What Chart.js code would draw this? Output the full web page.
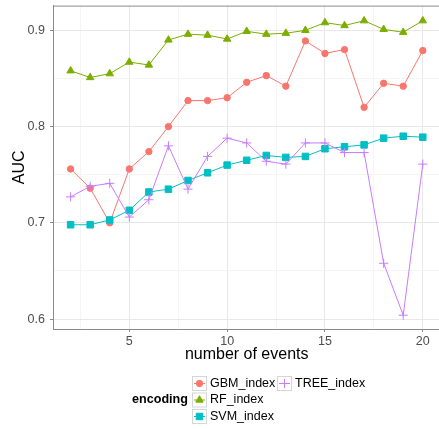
<!DOCTYPE html>
<html>
<head>
<meta charset="utf-8">
<script src="https://cdn.jsdelivr.net/npm/chart.js@4/dist/chart.umd.min.js"></script>
<style>
  html, body { margin: 0; padding: 0; background: #fff; }
  #wrap { width: 439px; height: 429px; overflow: hidden; }
</style>
</head>
<body>
<div id="wrap"><canvas id="aucChart" width="446" height="429"></canvas></div>
<script>
const events = [2, 3, 4, 5, 6, 7, 8, 9, 10, 11, 12, 13, 14, 15, 16, 17, 18, 19, 20];
const gbmIndex = [0.756, 0.736, 0.700, 0.756, 0.774, 0.800, 0.827, 0.827, 0.830, 0.846, 0.853, 0.842, 0.889, 0.876, 0.880, 0.820, 0.845, 0.842, 0.879];
const rfIndex = [0.858, 0.851, 0.855, 0.867, 0.864, 0.890, 0.896, 0.895, 0.891, 0.899, 0.896, 0.897, 0.900, 0.908, 0.905, 0.910, 0.901, 0.898, 0.910];
const svmIndex = [0.698, 0.698, 0.703, 0.713, 0.732, 0.735, 0.744, 0.752, 0.760, 0.765, 0.770, 0.768, 0.769, 0.777, 0.779, 0.781, 0.788, 0.790, 0.789];
const treeIndex = [0.727, 0.738, 0.741, 0.706, 0.724, 0.780, 0.735, 0.769, 0.788, 0.783, 0.764, 0.761, 0.783, 0.783, 0.773, 0.773, 0.658, 0.604, 0.761];

const xTicks = [2.5, 5, 7.5, 10, 12.5, 15, 17.5, 20];
const xLabels = [5, 10, 15, 20];
const yTicks = [0.6, 0.65, 0.7, 0.75, 0.8, 0.85, 0.9];
const yLabels = [0.6, 0.7, 0.8, 0.9];

const series = [
  { label: 'GBM_index', data: gbmIndex, color: '#F8766D', style: 'circle', radius: 3.2 },
  { label: 'RF_index', data: rfIndex, color: '#7CAE00', style: 'triangle', radius: 4.3 },
  { label: 'SVM_index', data: svmIndex, color: '#00BFC4', style: 'rect', radius: 4.6 },
  { label: 'TREE_index', data: treeIndex, color: '#C77CFF', style: 'cross', radius: 4.6 },
];

const isOneOf = (list, v) => list.some(l => Math.abs(l - v) < 1e-9);
const font = 'Liberation Sans, Arial, sans-serif';

// top border of the panel + the ggplot-style legend below the axis title
const panelAndLegend = {
  id: 'panelAndLegend',
  afterDraw(chart) {
    const { ctx, chartArea } = chart;
    ctx.save();
    ctx.strokeStyle = '#8a8a8a';
    ctx.lineWidth = 1;
    ctx.beginPath();
    ctx.moveTo(chartArea.left, chartArea.top + 0.5);
    ctx.lineTo(chartArea.right, chartArea.top + 0.5);
    ctx.stroke();

    ctx.fillStyle = '#000';
    ctx.font = 'bold 12.6px ' + font;
    ctx.textAlign = 'right';
    ctx.textBaseline = 'middle';
    ctx.fillText('encoding', 188, 400);

    const slots = [[192, 383.5], [192, 400], [192, 416.5], [277, 383.5]];
    const size = 15;
    series.forEach((s, i) => {
      const [x, cy] = slots[i];
      const y = cy - size / 2;
      ctx.strokeStyle = '#d6d6d6';
      ctx.lineWidth = 1;
      ctx.strokeRect(x + 0.5, y + 0.5, size - 1, size - 1);
      ctx.strokeStyle = s.color;
      ctx.beginPath();
      ctx.moveTo(x + 2, cy);
      ctx.lineTo(x + size - 2, cy);
      ctx.stroke();
      ctx.fillStyle = s.color;
      Chart.helpers.drawPoint(ctx, { pointStyle: s.style, radius: s.radius, rotation: 0, borderWidth: 1 }, x + size / 2, cy);
      ctx.fillStyle = '#000';
      ctx.font = '12.5px ' + font;
      ctx.textAlign = 'left';
      ctx.fillText(s.label, x + size + 3, cy);
    });
    ctx.restore();
  }
};

new Chart(document.getElementById('aucChart'), {
  type: 'line',
  data: {
    datasets: series.map((s, i) => ({
      label: s.label,
      data: events.map((e, j) => ({ x: e, y: s.data[j] })),
      borderColor: s.color,
      backgroundColor: s.color,
      borderWidth: 1,
      pointStyle: s.style,
      pointRadius: s.radius,
      pointBorderWidth: 1,
      pointBorderColor: s.color,
      pointBackgroundColor: s.color,
      tension: 0,
      order: series.length - i,
    })),
  },
  options: {
    responsive: false,
    animation: false,
    events: [],
    layout: { padding: { left: 0, right: 0, top: 3, bottom: 66 } },
    plugins: { legend: { display: false }, tooltip: { enabled: false } },
    scales: {
      x: {
        type: 'linear',
        min: 1.1,
        max: 20.9,
        afterBuildTicks: scale => { scale.ticks = xTicks.map(v => ({ value: v })); },
        afterFit: scale => {
          scale.height = 34;
          scale.paddingLeft = 0;
          scale.paddingRight = 0;
        },
        ticks: {
          autoSkip: false,
          maxRotation: 0,
          padding: 2,
          color: '#4d4d4d',
          font: { family: font, size: 12.5 },
          callback: v => (isOneOf(xLabels, v) ? String(v) : ''),
        },
        grid: {
          color: c => (isOneOf(xLabels, c.tick.value) ? '#e8e8e8' : '#f5f5f5'),
          lineWidth: 1,
          tickLength: 3,
          tickColor: c => (isOneOf(xLabels, c.tick.value) ? '#8a8a8a' : 'rgba(0,0,0,0)'),
        },
        border: { color: '#8a8a8a', width: 1 },
        title: {
          display: true,
          text: 'number of events',
          color: '#000',
          padding: 0,
          font: { family: font, size: 16, lineHeight: 1 },
        },
      },
      y: {
        type: 'linear',
        min: 0.5897,
        max: 0.9257,
        afterBuildTicks: scale => { scale.ticks = yTicks.map(v => ({ value: v })); },
        afterFit: scale => {
          scale.width = 53;
          scale.paddingTop = 0;
          scale.paddingBottom = 0;
        },
        ticks: {
          autoSkip: false,
          padding: 5,
          color: '#4d4d4d',
          font: { family: font, size: 12.5 },
          callback: v => (isOneOf(yLabels, v) ? v.toFixed(1) : ''),
        },
        grid: {
          color: c => (isOneOf(yLabels, c.tick.value) ? '#e8e8e8' : '#f5f5f5'),
          lineWidth: 1,
          tickLength: 3,
          tickColor: c => (isOneOf(yLabels, c.tick.value) ? '#8a8a8a' : 'rgba(0,0,0,0)'),
        },
        border: { color: '#8a8a8a', width: 1 },
        title: {
          display: true,
          text: 'AUC',
          color: '#000',
          padding: { top: 10, bottom: 0 },
          font: { family: font, size: 16, lineHeight: 1.2 },
        },
      },
    },
  },
  plugins: [panelAndLegend],
});
</script>
</body>
</html>
